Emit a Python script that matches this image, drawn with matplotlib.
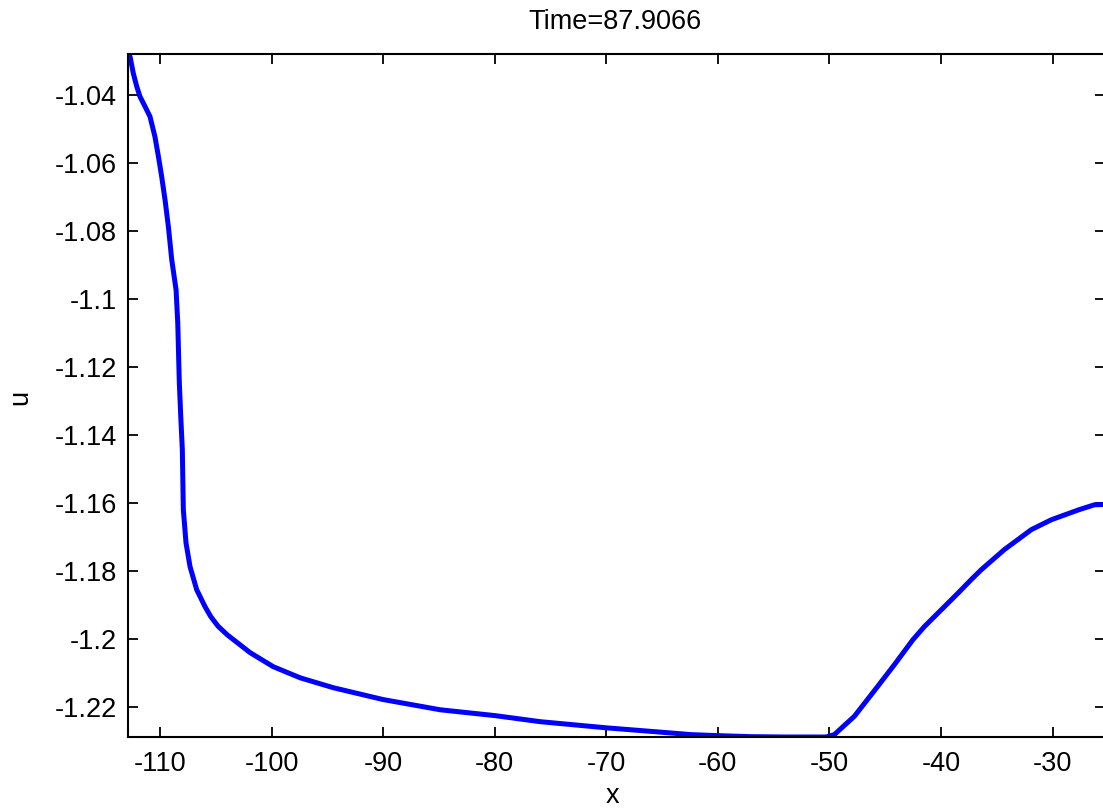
import matplotlib
matplotlib.use("Agg")
import matplotlib.pyplot as plt

x_vals = [-112.87, -112.69, -112.40, -112.09, -111.80, -111.35, -110.90, -110.45,
          -110.10, -109.85, -109.55, -109.25, -108.95, -108.56, -108.41, -108.27,
          -108.14, -108.00, -107.91, -107.67, -107.31, -106.71, -105.96, -105.45,
          -104.80, -103.99, -101.92, -99.86, -97.43, -94.47, -92.94, -89.98,
          -84.87, -80.00, -75.90, -70.00, -65.40, -62.40, -60.00, -57.00, -54.00,
          -50.30, -49.56, -47.76, -45.67, -44.17, -42.52, -41.48, -39.98, -38.48,
          -37.29, -36.39, -34.33, -31.90, -30.11, -27.68, -26.25, -25.30]
u_vals = [-1.0280, -1.0287, -1.0336, -1.0375, -1.0405, -1.0434, -1.0464, -1.0524,
          -1.0590, -1.0641, -1.0709, -1.0788, -1.0885, -1.0974, -1.1071, -1.1247,
          -1.1347, -1.1444, -1.1621, -1.1718, -1.1788, -1.1856, -1.1906, -1.1935,
          -1.1963, -1.1988, -1.2041, -1.2082, -1.2115, -1.2144, -1.2156, -1.2179,
          -1.2209, -1.2226, -1.2244, -1.2262, -1.2274, -1.2282, -1.2285, -1.2288,
          -1.2289, -1.2289, -1.2282, -1.2228, -1.2140, -1.2076, -1.2003, -1.1964,
          -1.1915, -1.1866, -1.1826, -1.1797, -1.1738, -1.1679, -1.1650, -1.1621,
          -1.1606, -1.1605]

x_ticks = [-110, -100, -90, -80, -70, -60, -50, -40, -30]
x_ticklabels = ["-110", "-100", "-90", "-80", "-70", "-60", "-50", "-40", "-30"]
y_ticks = [-1.22, -1.20, -1.18, -1.16, -1.14, -1.12, -1.10, -1.08, -1.06, -1.04]
y_ticklabels = ["-1.22", "-1.2", "-1.18", "-1.16", "-1.14", "-1.12", "-1.1",
                "-1.08", "-1.06", "-1.04"]
title_text = "Time=87.9066"

plt.rcParams['font.family'] = ['Liberation Sans', 'DejaVu Sans']

fig = plt.figure(figsize=(11.03, 8.09), dpi=100)
ax = fig.add_axes([128/1103, 1 - 737/809, (1105 - 128)/1103, (737 - 54)/809])

ax.plot(x_vals, u_vals, color=(0, 0, 1), linewidth=3.6, solid_joinstyle='round')

ax.set_xlim(min(x_vals), max(x_vals))
ax.set_ylim(min(u_vals), max(u_vals))

ax.set_xticks(x_ticks)
ax.set_xticklabels(x_ticklabels)
ax.set_yticks(y_ticks)
ax.set_yticklabels(y_ticklabels)

ax.tick_params(direction='in', length=7, width=1.3, top=True, right=True,
               labelsize=19.5, colors='black')
ax.tick_params(axis='x', pad=10)
ax.tick_params(axis='y', pad=8)
for s in ax.spines.values():
    s.set_linewidth(1.5)
    s.set_color('black')

fig.text(615/1103, 1 - 22/809, title_text, ha='center', va='center', fontsize=19.5)
fig.text(613/1103, 1 - 796/809, "x", ha='center', va='center', fontsize=19.5)
fig.text(20/1103, 1 - 397/809, "u", ha='center', va='center', fontsize=19.5, rotation=90)

fig.savefig("out.png", dpi=100)
